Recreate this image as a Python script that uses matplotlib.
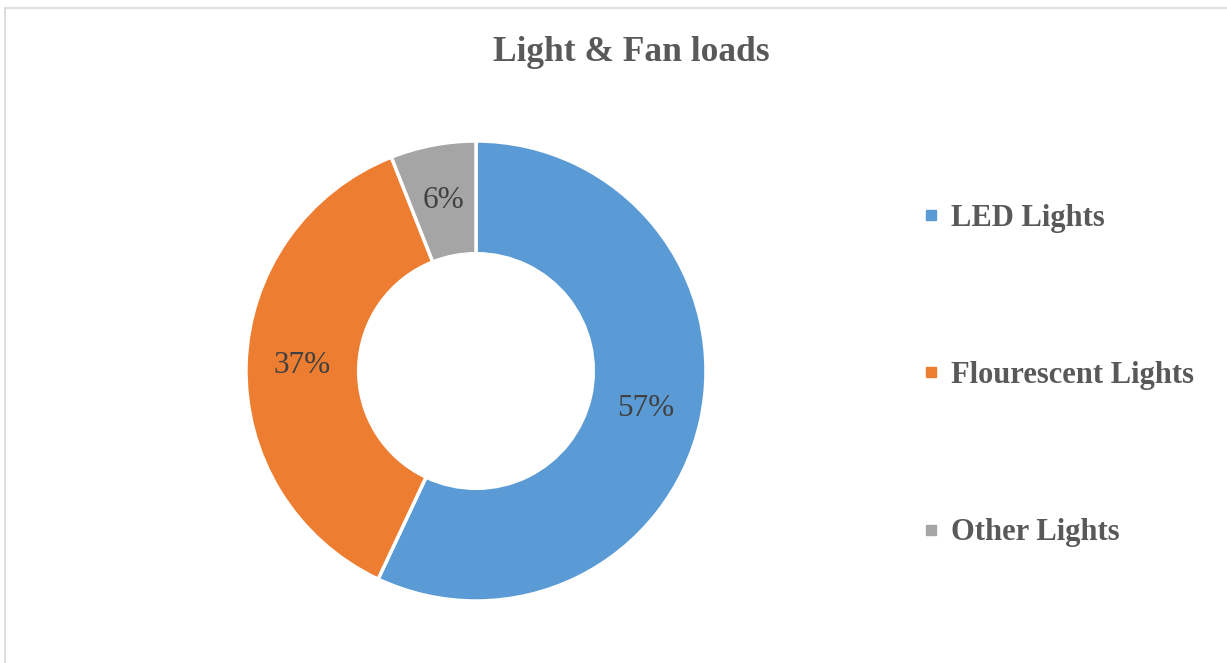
import matplotlib.pyplot as plt
from matplotlib.lines import Line2D

# data
labels = ["LED Lights", "Flourescent Lights", "Other Lights"]
shares = [57, 37, 6]
colors = ["#5B9BD5", "#ED7D31", "#A5A5A5"]

plt.rcParams["font.family"] = ["Liberation Serif", "DejaVu Serif"]

fig = plt.figure(figsize=(12.27, 6.63), dpi=100)

# light frame (top and left edges visible)
fig.add_artist(Line2D([5 / 1227, 1.0], [1 - 7.5 / 663] * 2, transform=fig.transFigure,
                      color="#D9D9D9", lw=1.2))
fig.add_artist(Line2D([5 / 1227] * 2, [0.0, 1 - 7.5 / 663], transform=fig.transFigure,
                      color="#D9D9D9", lw=1.2))

ax = fig.add_axes([246 / 1227, 62 / 663, 460 / 1227, 460 / 663])
wedges, texts, autotexts = ax.pie(
    shares, colors=colors, startangle=90, counterclock=False,
    radius=1.0, autopct="%d%%", pctdistance=0.755,
    wedgeprops=dict(width=0.49, edgecolor="white", linewidth=2.5),
    textprops=dict(fontsize=22.5, color="#404040"),
)
ax.set_xlim(-1, 1)
ax.set_ylim(-1, 1)
ax.set_aspect("equal")
ax.axis("off")

fig.text(631 / 1227, 1 - 61 / 663, "Light & Fan loads", ha="center", va="baseline",
         fontsize=25.5, fontweight="bold", color="#595959")

handles = [Line2D([], [], marker="s", linestyle="none", markersize=7.5,
                  markerfacecolor=c, markeredgecolor=c) for c in colors]
leg = fig.legend(handles, labels, loc="center left", bbox_to_anchor=(922 / 1227, 1 - 375.5 / 663),
                 frameon=False, fontsize=22, labelspacing=4.2, handlelength=0.6,
                 handletextpad=0.35, borderpad=0, borderaxespad=0)
for t in leg.get_texts():
    t.set_color("#595959")
    t.set_fontweight("bold")

fig.savefig("out.png", dpi=100)
